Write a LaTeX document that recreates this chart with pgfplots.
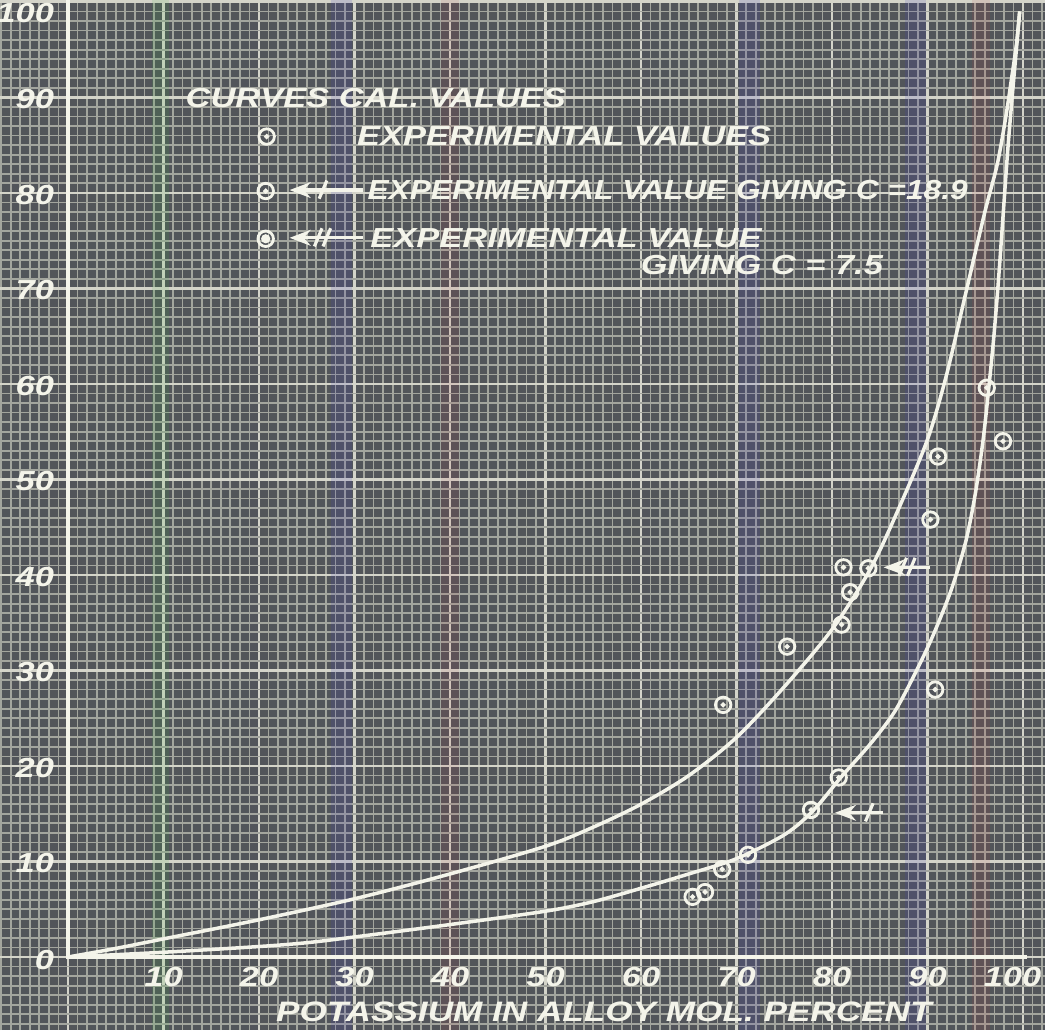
\documentclass[border=0pt]{standalone}
\usepackage{fontspec}
\setmainfont{Liberation Sans}
\usepackage{pgfplots}
\pgfplotsset{compat=1.18}
\usetikzlibrary{arrows.meta}
\definecolor{bg}{HTML}{52555A}
\definecolor{mingrid}{HTML}{A3A59E}
\definecolor{majgrid}{HTML}{D4D4CA}
\definecolor{ink}{HTML}{F4F4EA}

\begin{document}
\begin{tikzpicture}
\begin{axis}[
  width=10.45cm, height=10.30cm, scale only axis,
  xmin=-7.12, xmax=102.3, ymin=-7.64, ymax=100.2,
  axis background/.style={fill=bg},
  axis line style={draw=none},
  xtick={0,10,...,100}, ytick={0,10,...,100},
  minor xtick={-7,-6,...,102}, minor ytick={-7,-6,...,100},
  grid=both,
  minor grid style={mingrid, line width=0.5pt},
  major grid style={majgrid, line width=0.8pt},
  major tick length=0pt, minor tick length=0pt,
  tick style={draw=none},
  xticklabels={}, yticklabels={},
  clip=true,
]
% faint coloured scan bands of the paper
\addplot[draw=green!50!gray, opacity=0.12, line width=5pt] coordinates {(9.7,-7.64) (9.7,100.2)};
\addplot[draw=blue!50!gray, opacity=0.15, line width=6pt] coordinates {(28.6,-7.64) (28.6,100.2)};
\addplot[draw=red!50!gray, opacity=0.1, line width=5pt] coordinates {(40.0,-7.64) (40.0,100.2)};
\addplot[draw=blue!50!gray, opacity=0.15, line width=6pt] coordinates {(71.4,-7.64) (71.4,100.2)};
\addplot[draw=blue!50!gray, opacity=0.15, line width=6pt] coordinates {(88.7,-7.64) (88.7,100.2)};
\addplot[draw=red!50!gray, opacity=0.12, line width=5pt] coordinates {(95.6,-7.64) (95.6,100.2)};

% axis lines
\addplot[ink, line width=1.1pt] coordinates {(0,100.2) (0,0) (100.4,0)};

% calculated curves
\addplot[ink, line width=1pt, smooth] coordinates {
(0,0) (5,0.9) (10,1.9) (20,3.9) (30,6.1) (40,8.7) (50,11.6) (55,13.6) (60,16.0)
(65,19.0) (70,23.0) (75,28.3) (80,34.3) (84,40.6) (87,47) (90,54.2) (92,61)
(94,69.5) (96,78) (97.3,83) (98.2,88) (98.8,92) (99.3,95.5) (99.65,99)};
\addplot[ink, line width=1pt, smooth] coordinates {
(0,0) (10,0.5) (20,1.1) (25,1.5) (30,2.1) (40,3.4) (50,4.8) (55,5.8) (60,7.2)
(65,8.7) (70,10.3) (75,12.8) (78,15.3) (81,18.9) (84,22.3) (86.5,25.6)
(88.5,29.3) (90.5,33.5) (92.5,38.5) (94,43.5) (95,48.5) (95.8,54) (96.3,58.5)
(96.9,64.5) (97.4,70.5) (97.9,77.5) (98.4,84.5) (98.9,90.5) (99.3,95) (99.65,99)};

% experimental values
\addplot[only marks, mark=o, mark size=2.2pt, ink, line width=0.8pt] coordinates {
(97.9,54.0) (91.1,52.4) (90.3,45.8) (81.2,40.8) (81.9,38.2) (81.0,34.8)
(75.3,32.5) (90.8,28.0) (68.6,26.4) (96.2,59.6) (80.7,18.8) (71.2,10.7)
(68.5,9.2) (66.7,6.8) (65.4,6.3) (77.8,15.4) (83.8,40.7)};
\addplot[only marks, mark=*, mark size=0.55pt, ink] coordinates {
(97.9,54.0) (91.1,52.4) (90.3,45.8) (81.2,40.8) (81.9,38.2) (81.0,34.8)
(75.3,32.5) (90.8,28.0) (68.6,26.4) (96.2,59.6) (80.7,18.8) (71.2,10.7)
(68.5,9.2) (66.7,6.8) (65.4,6.3) (77.8,15.4) (83.8,40.7)};

% legend markers
\addplot[only marks, mark=o, mark size=2.2pt, ink, line width=0.8pt] coordinates {
(20.8,85.9) (20.7,80.2) (20.7,75.2)};
\addplot[only marks, mark=*, mark size=0.55pt, ink] coordinates {
(20.8,85.9) (20.7,80.2)};
\addplot[only marks, mark=*, mark size=1.1pt, ink] coordinates {(20.7,75.2)};

% arrows at the data points
\draw[ink, line width=0.9pt, -{Stealth[length=6pt,width=4.5pt]}] (axis cs:85.3,15.1) -- (axis cs:80.3,15.1);
\draw[ink, line width=0.9pt] (axis cs:83.5,14.2) -- (axis cs:84.3,16.1);
\draw[ink, line width=0.9pt, -{Stealth[length=6pt,width=4.5pt]}] (axis cs:90.3,40.8) -- (axis cs:85.4,40.8);
\draw[ink, line width=0.9pt] (axis cs:87.0,39.9) -- (axis cs:87.8,41.8);
\draw[ink, line width=0.9pt] (axis cs:87.9,39.9) -- (axis cs:88.7,41.8);

% legend arrows
\draw[ink, line width=0.9pt, -{Stealth[length=6pt,width=4.5pt]}] (axis cs:30.9,80.3) -- (axis cs:23.2,80.3);
\draw[ink, line width=0.9pt] (axis cs:26.3,79.4) -- (axis cs:27.1,81.3);
\draw[ink, line width=0.9pt, -{Stealth[length=6pt,width=4.5pt]}] (axis cs:30.9,75.3) -- (axis cs:23.2,75.3);
\draw[ink, line width=0.9pt] (axis cs:25.8,74.4) -- (axis cs:26.6,76.3);
\draw[ink, line width=0.9pt] (axis cs:26.7,74.4) -- (axis cs:27.5,76.3);

% legend text
\begin{scope}[every node/.style={text=ink, inner sep=0pt, font=\fontsize{9.8}{12}\selectfont\bfseries\itshape, yscale=0.8}]
\node[anchor=west] at (axis cs:12.25,89.9) {CURVES CAL. VALUES};
\node[anchor=west] at (axis cs:30.2,86.0) {EXPERIMENTAL VALUES};
\node[anchor=west, xscale=0.92] at (axis cs:31.3,80.3) {EXPERIMENTAL VALUE GIVING C =18.9};
\node[anchor=west] at (axis cs:31.6,75.3) {EXPERIMENTAL VALUE};
\node[anchor=west] at (axis cs:59.9,72.5) {GIVING C = 7.5};
\node at (axis cs:56.1,-5.76) {\fontsize{10}{12}\selectfont POTASSIUM IN ALLOY MOL. PERCENT};
\pgfplotsinvokeforeach{10,20,30,40,50,60,70,80,90}{
  \node at (axis cs:#1,-2.1) {#1};
}
\node at (axis cs:98.9,-2.1) {100};
\pgfplotsinvokeforeach{10,20,30,40,50,60,70,80,90}{
  \node[anchor=east] at (axis cs:-1.4,#1-0.2) {#1};
}
\node[anchor=east] at (axis cs:-1.4,98.8) {100};
\node[anchor=east] at (axis cs:-1.4,-0.3) {0};
\end{scope}
\end{axis}
\pgfresetboundingbox
\path[use as bounding box] (current axis.south west) rectangle (current axis.north east);
\end{tikzpicture}
\end{document}
